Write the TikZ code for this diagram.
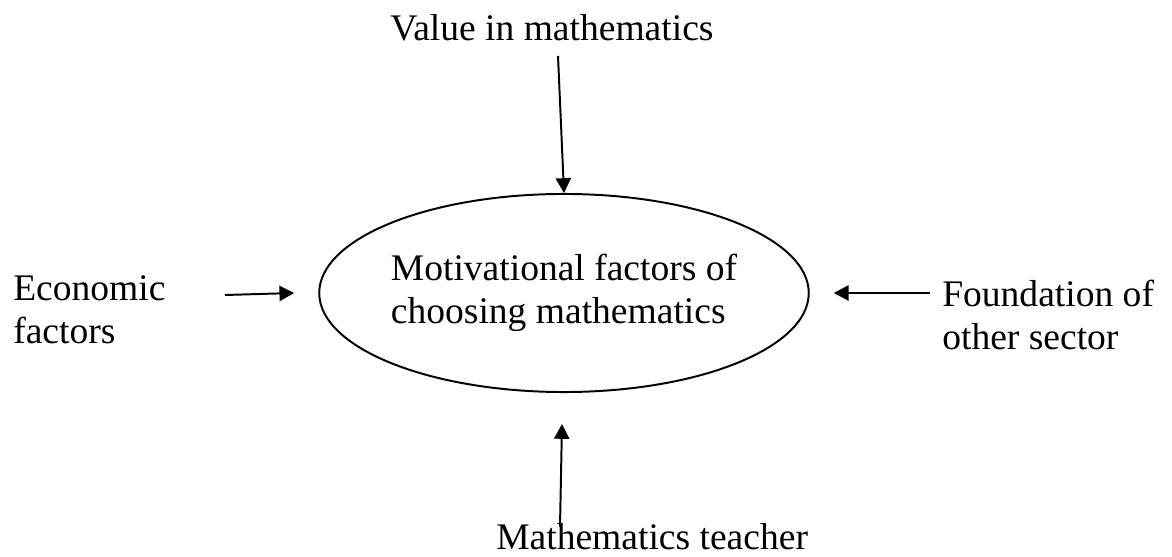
\documentclass[tikz,border=0pt]{standalone}
\usepackage{fontspec}
\setmainfont{Liberation Serif}
\usepackage{tikz}
\usetikzlibrary{positioning,arrows.meta,calc,shapes.geometric}

\begin{document}
\begin{tikzpicture}[
  x=0.025cm, y=-0.025cm,
  font=\fontsize{26.7}{30.6}\selectfont,
  >={Triangle[length=0.37cm, width=0.38cm]},
  lbl/.style={inner sep=0pt, align=left},
  core/.style={draw, ellipse, line width=1.4pt, inner sep=0pt,
               minimum width=12.2cm, minimum height=4.95cm, align=left},
  arr/.style={->, line width=1.4pt},
]
  % ── Page frame ──
  \useasboundingbox (0,0) rectangle (1172,557);
  % ── Central ellipse ──
  \node[core] (mot) at (564,293) {Motivational factors of\\choosing mathematics};
  % ── Surrounding factors (base = last line) ──
  \node[lbl, anchor=base west] (value) at (390,41)  {Value in mathematics};
  \node[lbl, anchor=base west] (econ)  at (13,344)  {Economic\\factors};
  \node[lbl, anchor=base west] (found) at (942,350) {Foundation of\\other sector};
  \node[lbl, anchor=base west] (teach) at (496,549) {Mathematics teacher};
  % ── Arrows into the ellipse ──
  \draw[arr] ($(value.south west)+(168,14)$) -- (mot.north);
  \draw[arr] ($(econ.east |- mot.west)+(59,2)$) -- ($(mot.west)+(-24,0)$);
  \draw[arr] ($(found.west |- mot.east)+(-12,0)$) -- ($(mot.east)+(24,0)$);
  \draw[arr] ($(teach.north west)+(64,4)$) -- ($(mot.south)+(-2,31)$);
\end{tikzpicture}
\end{document}
